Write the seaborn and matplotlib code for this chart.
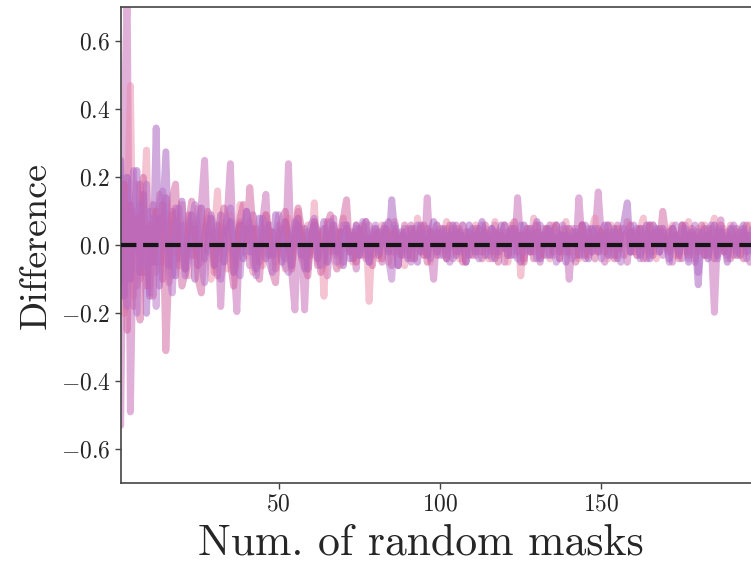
import numpy as np
import pandas as pd
import seaborn as sns
import matplotlib
matplotlib.use("Agg")
import matplotlib.pyplot as plt

# Number of random masks (x axis)
num_masks = list(range(1, 201))

series_a = [
    -.53, .30, .75, -.49, .10, -.12, .18, -.08, .05, -.15,
    .12, -.05, .08, -.10, .14, .02, -.09, .11, -.04, .06,
    -.07, .09, -.03, .05, -.06, .12, .25, -.02, .04, -.08,
    .06, -.18, .03, .08, .24, -.04, -.195, .07, -.02, .05,
    -.06, .09, .01, -.05, .07, .15, -.03, .04, -.07, .02,
    .05, -.04, .24, -.08, -.19, .06, .03, -.19, .04, -.02,
    .07, -.06, .03, .05, -.09, .02, .08, -.03, .04, -.05,
    .06, -.02, .03, -.07, .05, .01, -.04, .06, -.03, .02,
    .04, -.05, .03, .07, -.02, .05, -.06, .02, .04, -.03,
    .06, -.04, .02, .05, -.03, .14, -.02, -.10, .04, .01,
    -.03, .05, .02, -.04, .06, -.01, .03, -.05, .04, .02,
    -.03, .05, -.02, .04, .01, -.04, .06, -.02, .03, -.05,
    .02, .05, -.03, .14, .01, -.04, .03, .05, -.02, .04,
    -.05, .03, .01, .06, -.03, .02, -.04, .05, .03, -.10,
    .02, -.03, .14, .01, -.04, .05, -.02, .03, .157, .02,
    -.05, .04, .02, -.03, .06, -.01, .03, -.05, .04, .02,
    -.03, .05, .01, -.04, .06, -.02, .03, .05, -.03, .02,
    .04, -.05, .03, .01, -.04, .06, -.02, .03, -.05, .04,
    .02, -.03, .05, .01, -.197, .04, .075, -.02, .03, -.04,
    .05, .01, -.03, .04, .02, -.05, .03, .01, -.02, .04,
]

series_b = [
    .12, -.20, .05, .47, -.15, .18, -.10, .08, .28, -.12,
    .10, -.08, .15, -.05, .07, -.11, .09, .03, -.06, .12,
    .02, -.09, .06, -.03, .11, -.05, .04, .08, -.10, .03,
    .16, -.04, .05, -.07, .09, .01, -.06, .12, .04, -.03,
    .07, -.08, .05, .02, -.06, .09, -.02, .04, -.05, .06,
    .03, -.07, .08, -.02, .05, .10, -.04, .02, .06, -.03,
    .125, -.05, .04, -.15, .07, -.02, .05, .03, -.06, .08,
    -.01, .04, -.05, .06, .02, -.03, .07, -.165, .03, .05,
    -.04, .06, .02, -.05, .04, .07, -.02, .03, -.06, .05,
    .01, -.04, .08, .02, -.03, .05, -.05, .04, .06, -.02,
    .03, .07, -.03, .02, .05, -.04, .06, .01, -.03, .04,
    .06, -.02, .03, .05, -.04, .02, .07, -.03, .04, .01,
    -.05, .06, .02, .04, -.09, .03, .05, -.02, .08, .01,
    -.03, .05, .02, -.04, .06, .03, -.02, .04, .07, -.03,
    .05, .01, -.04, .06, .02, -.03, .05, .08, -.02, .04,
    .03, -.04, .06, .02, -.03, .05, .01, .07, -.02, .04,
    -.03, .05, .08, -.02, .03, .06, -.04, .02, .05, -.01,
    .04, .06, -.03, .02, .05, -.02, .07, .03, -.04, .05,
    .02, .06, -.03, .04, .08, -.02, .03, .05, -.04, .06,
    .01, .04, -.03, .05, .02, .06, -.02, .04, .03, -.01,
]

series_c = [
    .25, -.15, .20, -.10, .05, .22, -.08, .15, -.20, .10,
    -.05, .345, -.12, .08, .275, -.06, .10, -.09, .05, .13,
    -.07, .04, .09, -.10, .06, .11, -.04, .03, .08, -.06,
    .02, .09, -.05, .04, .07, -.08, .03, .06, -.04, .10,
    -.02, .05, -.07, .08, .03, -.04, .06, -.03, .09, .01,
    -.05, .07, .02, -.06, .04, .08, -.03, .05, -.07, .03,
    .06, -.04, .02, .07, -.05, .03, .06, -.02, .04, -.06,
    .05, .02, -.04, .06, -.03, .04, .07, -.05, .02, .05,
    -.03, .04, .06, -.02, .134, .03, -.06, .04, .02, -.04,
    .05, .03, -.05, .06, .01, -.03, .04, .07, -.02, .03,
    .05, -.04, .02, .06, -.03, .04, .01, -.05, .06, .03,
    -.02, .04, .07, -.03, .02, .05, -.04, .03, .06, -.01,
    .04, -.03, .05, .02, -.05, .06, .03, -.02, .04, .07,
    -.04, .02, .05, -.03, .04, .06, -.02, .03, -.05, .05,
    .02, .04, -.03, .06, .01, -.04, .05, .03, -.02, .04,
    .06, -.03, .02, .05, -.04, .03, .07, .125, -.02, .04,
    .05, -.03, .02, .06, -.04, .03, .05, -.02, .04, .01,
    -.04, .05, .02, -.03, .06, .03, -.05, .04, .02, -.116,
    .03, .05, -.04, .02, .06, -.03, .04, .01, -.05, .05,
    .02, -.03, .04, .06, -.02, .03, -.04, .05, .01, .03,
]

series_d = [
    -.10, .18, -.25, .12, -.18, .08, -.22, .20, -.12, .06,
    -.15, .10, .02, .12, -.31, -.05, .14, .18, -.02, -.12,
    -.08, .06, .13, .04, -.10, -.14, .02, .10, .07, -.04,
    -.09, .03, .11, .06, -.05, -.12, -.02, .08, .12, .01,
    .17, .05, -.06, -.10, .02, .09, .04, -.08, -.11, .03,
    .08, .10, -.02, -.07, .03, .11, .05, -.06, -.09, .02,
    .07, .04, -.08, -.05, .06, .09, -.03, -.07, .04, .08,
    .134, -.02, .04, -.05, .03, .06, -.03, .02, -.06, .04,
    .02, -.04, .05, .03, -.06, .04, .01, -.03, .06, .02,
    -.04, .05, .03, -.02, .06, -.05, .04, .02, -.03, .05,
    .01, -.04, .06, .03, -.02, .05, -.05, .04, .02, -.03,
    .05, .01, -.04, .06, .03, -.02, .04, -.05, .02, .06,
    -.03, .04, .07, -.02, .03, -.05, .05, .02, -.04, .06,
    .01, -.03, .05, .04, -.02, .06, -.04, .03, .05, -.02,
    .04, -.05, .02, .06, -.03, .04, .01, -.04, .05, .03,
    -.02, .06, .03, -.04, .05, .02, -.03, .04, .06, -.02,
    .03, .05, -.04, .02, .06, -.03, .04, .01, .10, .03,
    -.02, .05, .03, -.04, .06, .02, -.03, .05, .04, -.02,
    .06, -.03, .02, .05, -.04, .03, .06, -.02, .04, .01,
    -.03, .05, .02, -.04, .06, .03, -.02, .04, .05, -.03,
]

series_e = [
    .20, -.05, -.18, .15, .22, -.20, .12, -.06, .18, -.14,
    .08, -.18, .12, .16, .05, -.08, -.14, .06, .11, .02,
    -.09, -.04, .07, .12, .03, -.06, -.11, .02, .09, .05,
    -.03, -.10, -.02, .08, .11, .01, -.07, -.09, .04, .10,
    .06, -.04, -.09, -.01, .08, .06, -.05, -.08, .03, .09,
    .04, -.06, -.08, .02, .07, .05, -.03, -.07, .01, .06,
    .08, -.02, -.06, -.04, .05, .07, .01, -.05, -.03, .06,
    .06, -.04, .02, .05, -.03, .07, .01, -.05, .04, .06,
    -.02, .03, .05, -.04, -.10, .06, .02, -.03, .05, .03,
    -.05, .04, .06, -.02, .03, .05, -.04, .02, .06, -.03,
    .04, .02, -.05, .05, .03, -.02, .06, .04, -.03, .05,
    .02, -.04, .06, .01, -.03, .05, .03, -.02, .04, .06,
    -.03, .05, .02, -.04, .06, .03, -.02, .05, .01, -.04,
    .06, .03, -.03, .05, .02, -.05, .04, .06, -.02, .03,
    -.04, .05, .02, -.03, .06, .04, -.02, .05, .03, -.04,
    .02, .06, -.03, .04, .01, -.05, .05, .03, -.02, .06,
    .03, -.04, .05, .02, -.03, .06, .04, -.02, .05, .03,
    -.05, .04, .06, -.02, .03, .05, -.04, .02, .06, -.08,
    .04, .02, -.03, .06, .03, -.04, .05, .02, -.03, .04,
    .06, -.02, .03, .05, -.04, .02, .06, .03, -.05, .04,
]

series_names = ["s1", "s2", "s3", "s4", "s5"]
series_values = [series_a, series_b, series_c, series_d, series_e]
line_colors = ["#c262b4", "#ec8aa8", "#a456bc", "#cf5c9c", "#b46cc6"]

x_ticks = [50, 100, 150]
y_ticks = [-0.6, -0.4, -0.2, 0.0, 0.2, 0.4, 0.6]

df = pd.concat(
    [pd.DataFrame({"masks": num_masks, "diff": v, "series": n})
     for n, v in zip(series_names, series_values)],
    ignore_index=True,
)

sns.set_style("ticks")
plt.rcParams["font.family"] = ["cmr10"]
plt.rcParams["mathtext.fontset"] = "cm"
plt.rcParams["axes.formatter.use_mathtext"] = True
plt.rcParams["axes.unicode_minus"] = True

fig = plt.figure(figsize=(7.51, 5.66), dpi=100)
ax = fig.add_axes([0.1607, 0.1461, 0.855, 0.841])

sns.lineplot(data=df, x="masks", y="diff", hue="series",
             palette=dict(zip(series_names, line_colors)),
             alpha=0.5, linewidth=5, legend=False, ax=ax,
             estimator=None, sort=False)
ax.axhline(0, color="#151515", linestyle="--", linewidth=3, zorder=5)

ax.set_xlim(1, 200)
ax.set_ylim(-0.7, 0.7)
ax.set_xticks(x_ticks)
ax.set_yticks(y_ticks)
ax.tick_params(labelsize=17, length=4, width=1, color="#444444")
for s in ax.spines.values():
    s.set_color("#444444")
    s.set_linewidth(1.2)

ax.set_xlabel("Num. of random masks", fontsize=31.5)
ax.set_ylabel("Difference", fontsize=27.5, labelpad=6)
ax.xaxis.set_label_coords(0.468, -0.084)

fig.savefig("out.png", dpi=100)
